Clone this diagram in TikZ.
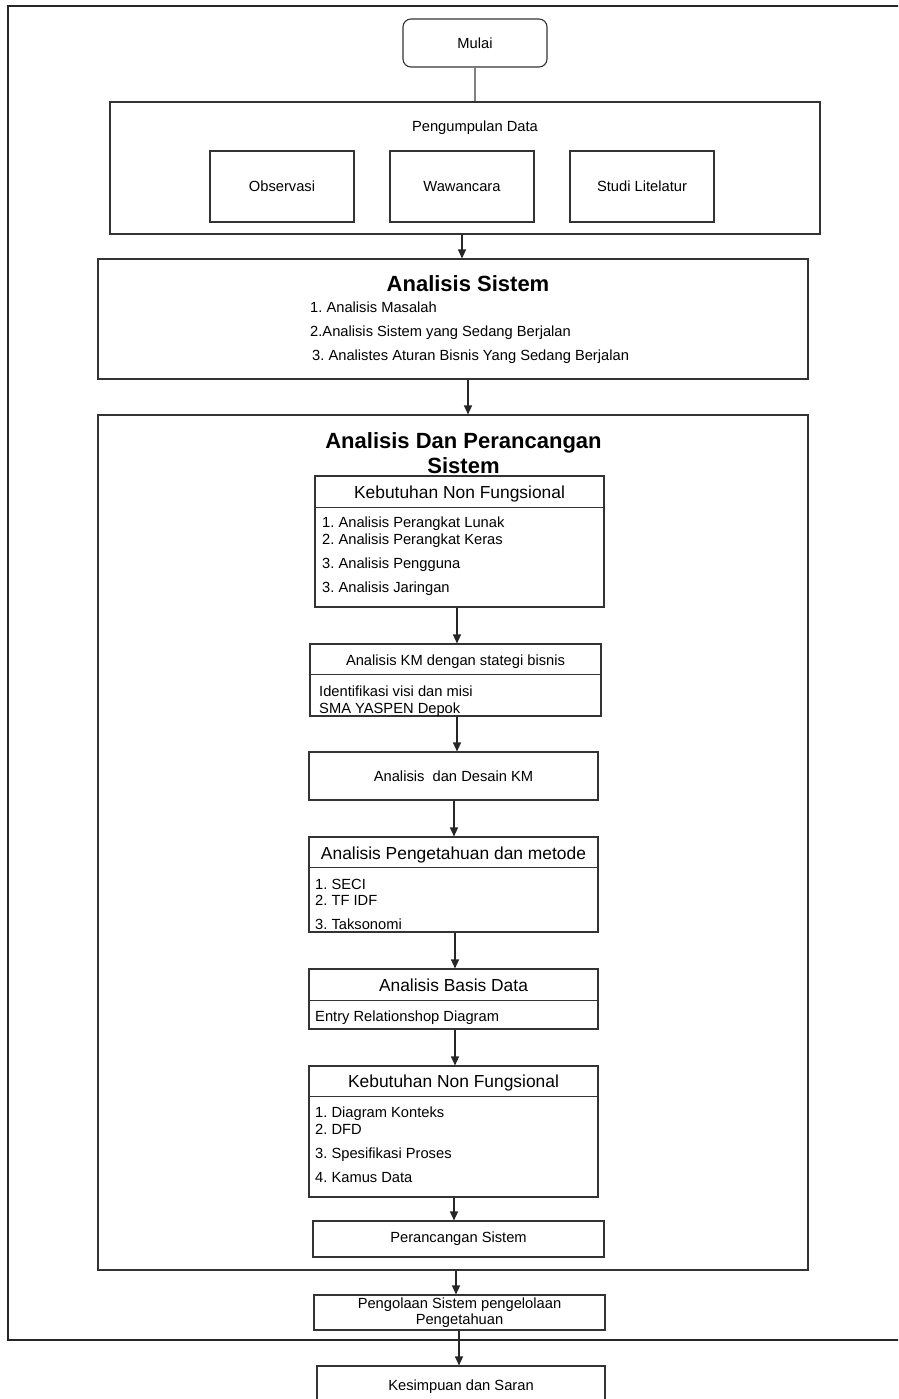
\documentclass[tikz,border=0pt]{standalone}
\usepackage{fontspec}
\setmainfont{Liberation Sans}
\usetikzlibrary{arrows.meta,calc}
\tikzset{
  box/.style={draw=black!80, line width=1.1pt, rectangle, inner sep=0pt, font=\fontsize{14.7}{16}\selectfont},
  frame/.style={draw=black!85, line width=1.6pt},
  arr/.style={draw=black!85, line width=1.1pt, -{Triangle[length=9pt,width=8pt]}},
  plain/.style={draw=black!50, line width=1.1pt},
  hline/.style={draw=black!80, line width=1.1pt},
  tb/.style={font=\fontsize{14.7}{17}\selectfont, inner sep=0pt, anchor=base},
  tl/.style={tb, anchor=base west},
  th/.style={font=\fontsize{17.4}{20}\selectfont, inner sep=0pt, anchor=base},
  tbold/.style={font=\bfseries\fontsize{22}{25}\selectfont, inner sep=0pt, anchor=base},
}
\begin{document}
\frenchspacing
\begin{tikzpicture}[x=1pt, y=-1pt]
\useasboundingbox (0,0) rectangle (898,1399);
\clip (0,0) rectangle (898,1399);

% outer frame (right side beyond the picture)
\draw[frame] (905,6) -- (8,6) -- (8,1340) -- (905,1340);

% Mulai
\node[box, rounded corners=8pt, minimum width=144pt, minimum height=48pt] (mulai) at (475,43) {Mulai};

% Pengumpulan Data
\node[box, minimum width=710pt, minimum height=132pt] (pd) at (465,168) {};
\node[tb] (pdt) at (475,132) {Pengumpulan Data};
\node[box, minimum width=144pt, minimum height=71pt] (obs) at (282,186.5) {Observasi};
\node[box, minimum width=144pt, minimum height=71pt] (waw) at (462,186.5) {Wawancara};
\node[box, minimum width=144pt, minimum height=71pt] (stu) at (642,186.5) {Studi Litelatur};

% Analisis Sistem
\node[box, minimum width=710pt, minimum height=120pt] (as) at (453,319) {};
\node[tbold] (ast) at (468,291) {Analisis Sistem};
\node[tl] (as1) at (310,312) {1. Analisis Masalah};
\node[tl] (as2) at (310,336) {2.Analisis Sistem yang Sedang Berjalan};
\node[tl] (as3) at (312,360) {3. Analistes Aturan Bisnis Yang Sedang Berjalan};

% Analisis Dan Perancangan Sistem
\node[box, minimum width=710pt, minimum height=855pt] (big) at (453,842.5) {};
\node[tbold] (bt1) at (463.5,448) {Analisis Dan Perancangan};
\node[tbold] (bt2) at (463.5,473) {Sistem};

% Kebutuhan Non Fungsional 1
\node[box, minimum width=289pt, minimum height=131pt] (k1) at (459.5,541.5) {};
\draw[hline] ([yshift=-32pt]k1.north west) -- ([yshift=-32pt]k1.north east);
\node[th] (k1h) at (459.5,498) {Kebutuhan Non Fungsional};
\node[tl] (k11) at (322,527) {1. Analisis Perangkat Lunak};
\node[tl] (k12) at (322,544) {2. Analisis Perangkat Keras};
\node[tl] (k13) at (322,568) {3. Analisis Pengguna};
\node[tl] (k14) at (322,592) {3. Analisis Jaringan};

% Analisis KM dengan stategi bisnis
\node[box, minimum width=291pt, minimum height=72pt] (km) at (455.5,680) {};
\draw[hline] ([yshift=-31pt]km.north west) -- ([yshift=-31pt]km.north east);
\node[tb] (kmh) at (455.5,665) {Analisis KM dengan stategi bisnis};
\node[tl] (km1) at (319,696) {Identifikasi visi dan misi};
\node[tl] (km2) at (319,713) {SMA YASPEN Depok};

% Analisis dan Desain KM
\node[box, minimum width=289pt, minimum height=48pt] (des) at (453.5,776) {Analisis\ \ dan Desain KM};

% Analisis Pengetahuan dan metode
\node[box, minimum width=289pt, minimum height=95pt] (pm) at (453.5,884.5) {};
\draw[hline] ([yshift=-31pt]pm.north west) -- ([yshift=-31pt]pm.north east);
\node[th] (pmh) at (453.5,859) {Analisis Pengetahuan dan metode};
\node[tl] (pm1) at (315,889) {1. SECI};
\node[tl] (pm2) at (315,905) {2. TF IDF};
\node[tl] (pm3) at (315,929) {3. Taksonomi};

% Analisis Basis Data
\node[box, minimum width=289pt, minimum height=60pt] (bd) at (453.5,999) {};
\draw[hline] ([yshift=-32pt]bd.north west) -- ([yshift=-32pt]bd.north east);
\node[th] (bdh) at (453.5,991) {Analisis Basis Data};
\node[tl] (bd1) at (315,1021) {Entry Relationshop Diagram};

% Kebutuhan Non Fungsional 2
\node[box, minimum width=289pt, minimum height=131pt] (k2) at (453.5,1131.5) {};
\draw[hline] ([yshift=-31pt]k2.north west) -- ([yshift=-31pt]k2.north east);
\node[th] (k2h) at (453.5,1087) {Kebutuhan Non Fungsional};
\node[tl] (k21) at (315,1117) {1. Diagram Konteks};
\node[tl] (k22) at (315,1134) {2. DFD};
\node[tl] (k23) at (315,1158) {3. Spesifikasi Proses};
\node[tl] (k24) at (315,1182) {4. Kamus Data};

% Perancangan Sistem
\node[box, minimum width=291pt, minimum height=36pt] (pr) at (458.5,1239) {Perancangan Sistem};

% Pengolaan
\node[box, minimum width=291pt, minimum height=35pt, align=center] (po) at (459.5,1312.5) {Pengolaan Sistem pengelolaan\\Pengetahuan};

% Kesimpuan dan Saran
\node[box, minimum width=288pt, minimum height=54pt] (ks) at (461,1393) {};
\node[tb] (kst) at (461,1390) {Kesimpuan dan Saran};

% connector x positions
\coordinate (c0) at (475,0);
\coordinate (c1) at (462,0);
\coordinate (c2) at (468,0);
\coordinate (c3) at (457,0);
\coordinate (c4) at (457,0);
\coordinate (c5) at (454,0);
\coordinate (c6) at (455,0);
\coordinate (c7) at (455,0);
\coordinate (c8) at (454,0);
\coordinate (c9) at (456,0);
\coordinate (c10) at (459,0);

\draw[plain] (mulai.south -| c0) -- (pd.north -| c0);
\draw[arr] (pd.south -| c1) -- (as.north -| c1);
\draw[arr] (as.south -| c2) -- (big.north -| c2);
\draw[arr] (k1.south -| c3) -- (km.north -| c3);
\draw[arr] (km.south -| c4) -- (des.north -| c4);
\draw[arr] (des.south -| c5) -- (pm.north -| c5);
\draw[arr] (pm.south -| c6) -- (bd.north -| c6);
\draw[arr] (bd.south -| c7) -- (k2.north -| c7);
\draw[arr] (k2.south -| c8) -- (pr.north -| c8);
\draw[arr] (big.south -| c9) -- (po.north -| c9);
\draw[arr] (po.south -| c10) -- (ks.north -| c10);
\end{tikzpicture}
\end{document}
